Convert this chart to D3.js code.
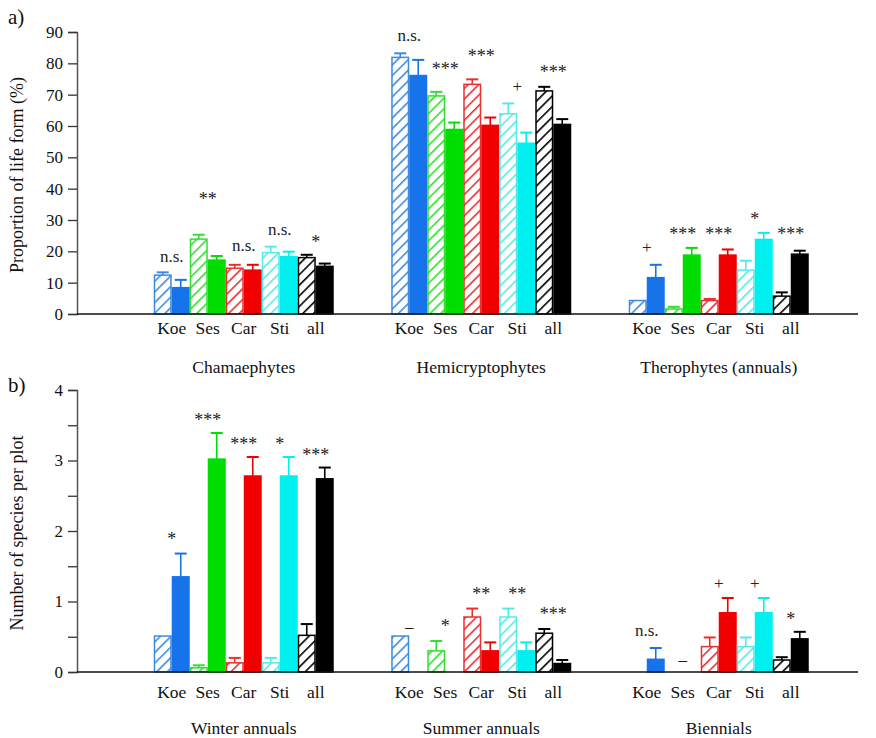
<!DOCTYPE html>
<html>
<head>
<meta charset="utf-8">
<script src="https://cdn.jsdelivr.net/npm/d3@7"></script>
<style>
  html, body { margin: 0; padding: 0; background: #fff; }
  svg text { font-family: "Liberation Serif", "Times New Roman", Times, serif; }
</style>
</head>
<body>
<svg id="chart" width="876" height="738"></svg>
<script>
// Sites / species pairs shown in every group
const categories = ["Koe", "Ses", "Car", "Sti", "all"];
const seriesColor = ["#1773ea", "#00dd00", "#f00000", "#00f0f0", "#000000"];
const hatchColor  = ["#3d8be0", "#33dd33", "#e83030", "#55eaea", "#000000"];

// a) proportion of life forms (%)
const lifeGroups = ["Chamaephytes", "Hemicryptophytes", "Therophytes (annuals)"];
const lifeHatchedMean = [[12.4, 23.9, 14.6, 19.6, 18.0], [81.9, 69.6, 73.3, 63.9, 71.2], [4.3, 1.6, 4.3, 14.0, 5.7]];
const lifeHatchedSE   = [[0.9, 1.4, 1.1, 1.9, 0.9], [1.3, 1.3, 1.6, 3.3, 1.3], [0, 0.7, 0.5, 3.0, 1.2]];
const lifeSolidMean   = [[8.4, 17.2, 14.0, 18.3, 15.2], [76.1, 58.9, 60.2, 54.5, 60.5], [11.6, 18.8, 18.8, 23.8, 19.1]];
const lifeSolidSE     = [[2.5, 1.3, 1.7, 1.6, 0.9], [5.0, 2.2, 2.5, 3.4, 1.7], [4.1, 2.3, 1.8, 2.1, 1.1]];
const lifeSig         = [["n.s.", "**", "n.s.", "n.s.", "*"], ["n.s.", "***", "***", "+", "***"], ["+", "***", "***", "*", "***"]];
const lifeSigLevel    = [[16.6, 34.8, 20.1, 25.2, 21.1], [87.1, 76.3, 80.4, 70.9, 75.3], [19.5, 23.6, 23.6, 28.4, 23.6]];
const lifeTicks = [0, 10, 20, 30, 40, 50, 60, 70, 80, 90];

// b) number of species per plot
const annGroups = ["Winter annuals", "Summer annuals", "Biennials"];
const annHatchedMean = [[0.51, 0.06, 0.13, 0.13, 0.52], [0.51, 0.30, 0.78, 0.78, 0.55], [0, 0, 0.36, 0.36, 0.17]];
const annHatchedSE   = [[0, 0.035, 0.07, 0.07, 0.16], [0, 0.14, 0.12, 0.12, 0.06], [0, 0, 0.13, 0.13, 0.04]];
const annSolidMean   = [[1.35, 3.02, 2.78, 2.78, 2.74], [0, 0, 0.30, 0.30, 0.12], [0.18, 0, 0.84, 0.84, 0.47]];
const annSolidSE     = [[0.33, 0.37, 0.27, 0.27, 0.16], [0, 0, 0.12, 0.12, 0.05], [0.16, 0, 0.21, 0.21, 0.10]];
const annSig         = [["*", "***", "***", "*", "***"], ["\u2013", "*", "**", "**", "***"], ["n.s.", "\u2013", "+", "+", "*"]];
const annSigLevel    = [[1.80, 3.49, 3.15, 3.15, 2.99], [0.57, 0.57, 1.02, 1.02, 0.74], [0.51, 0.10, 1.18, 1.18, 0.67]];
const annTicks = [0, 0.5, 1, 1.5, 2, 2.5, 3, 3.5, 4];

const FONT = "'Liberation Serif', 'Times New Roman', Times, serif";
const svg = d3.select("#chart").attr("font-family", FONT);
const defs = svg.append("defs");

// diagonal hatch pattern per colour
hatchColor.forEach((c, i) => {
  const p = defs.append("pattern")
    .attr("id", "hatch" + i)
    .attr("patternUnits", "userSpaceOnUse")
    .attr("width", 7.5).attr("height", 7.5)
    .attr("patternTransform", "rotate(45)");
  p.append("rect").attr("width", 7.5).attr("height", 7.5).attr("fill", "#fff");
  p.append("line").attr("x1", 0.8).attr("y1", 0).attr("x2", 0.8).attr("y2", 7.5)
    .attr("stroke", c).attr("stroke-width", 1.6);
});

const axisLeft = 77, axisRight = 858;

function drawPanel(cfg) {
  const g = svg.append("g");
  const y = d3.scaleLinear().domain(cfg.domain).range([cfg.y0, cfg.y1]);
  const xg = d3.scaleBand().domain(cfg.groups).range([125, 837.5])
    .paddingInner(0.242).paddingOuter(0.121);
  const xc = d3.scaleBand().domain(categories).range([0, xg.bandwidth()]);
  const xs = d3.scaleBand().domain(["h", "s"]).range([0, xc.bandwidth()]);
  const bw = xs.bandwidth();

  // y axis
  const ya = d3.axisLeft(y).tickValues(cfg.ticks).tickSize(9).tickPadding(5)
    .tickFormat(d => cfg.labelTick(d) ? d3.format("d")(d) : "");
  const yg = g.append("g").attr("transform", `translate(${axisLeft},0)`).call(ya)
    .attr("font-family", FONT);
  yg.select(".domain").attr("stroke", "#555").attr("stroke-width", 1.5);
  yg.selectAll(".tick line").attr("stroke", "#333").attr("stroke-width", 1.3);
  yg.selectAll(".tick text").attr("font-size", 17).attr("fill", "#111")
    .attr("font-family", FONT);

  // bars
  cfg.groups.forEach((grp, gi) => {
    categories.forEach((cat, ci) => {
      const x0 = xg(grp) + xc(cat);
      const specs = [
        { key: "h", m: cfg.hm[gi][ci], se: cfg.hse[gi][ci], hatched: true },
        { key: "s", m: cfg.sm[gi][ci], se: cfg.sse[gi][ci], hatched: false }
      ];
      specs.forEach(s => {
        if (s.m <= 0) return;
        const bx = x0 + xs(s.key);
        const col = s.hatched ? hatchColor[ci] : seriesColor[ci];
        // error bar
        if (s.se > 0) {
          const cx = bx + bw / 2;
          g.append("line").attr("x1", cx).attr("x2", cx)
            .attr("y1", y(s.m)).attr("y2", y(s.m + s.se))
            .attr("stroke", col).attr("stroke-width", 1.6);
          g.append("line").attr("x1", cx - 6).attr("x2", cx + 6)
            .attr("y1", y(s.m + s.se)).attr("y2", y(s.m + s.se))
            .attr("stroke", col).attr("stroke-width", 2);
        }
        g.append("rect")
          .attr("x", bx + 0.75).attr("width", bw - 1.5)
          .attr("y", y(s.m)).attr("height", y(0) - y(s.m))
          .attr("fill", s.hatched ? `url(#hatch${ci})` : col)
          .attr("stroke", col).attr("stroke-width", 1.5);
      });
      // significance label
      const lab = cfg.sig[gi][ci];
      g.append("text")
        .attr("x", x0 + xc.bandwidth() / 2)
        .attr("y", y(cfg.sigLevel[gi][ci]))
        .attr("text-anchor", "middle")
        .attr("font-family", FONT)
        .attr("font-size", lab.includes("*") ? 18 : 17)
        .attr("fill", "#222")
        .text(lab);
      // category label
      g.append("text")
        .attr("x", x0 + xc.bandwidth() / 2)
        .attr("y", cfg.catY)
        .attr("text-anchor", "middle")
        .attr("font-family", FONT)
        .attr("font-size", 17.5).attr("fill", "#111")
        .text(cat);
    });
    g.append("text")
      .attr("x", xg(grp) + xg.bandwidth() / 2)
      .attr("y", cfg.grpY)
      .attr("text-anchor", "middle")
      .attr("font-family", FONT)
      .attr("font-size", 17.5).attr("fill", "#111")
      .text(grp);
  });

  // x axis baseline
  g.append("line").attr("x1", axisLeft).attr("x2", axisRight)
    .attr("y1", y(0)).attr("y2", y(0))
    .attr("stroke", "#111").attr("stroke-width", 1.6);

  // y title
  g.append("text")
    .attr("transform", `translate(23,${(cfg.y0 + cfg.y1) / 2 + 2}) rotate(-90)`)
    .attr("text-anchor", "middle")
    .attr("font-family", FONT)
    .attr("font-size", 18).attr("fill", "#111")
    .text(cfg.title);

  // panel letter
  g.append("text").attr("x", 8).attr("y", cfg.letterY)
    .attr("font-family", FONT)
    .attr("font-size", 21).attr("fill", "#111").text(cfg.letter);
}

drawPanel({
  domain: [0, 90], y0: 314, y1: 32, ticks: lifeTicks, labelTick: () => true,
  groups: lifeGroups, hm: lifeHatchedMean, hse: lifeHatchedSE,
  sm: lifeSolidMean, sse: lifeSolidSE, sig: lifeSig, sigLevel: lifeSigLevel,
  catY: 334, grpY: 373, title: "Proportion of life form (%)",
  letter: "a)", letterY: 24
});

drawPanel({
  domain: [0, 4], y0: 672, y1: 390, ticks: annTicks, labelTick: d => Number.isInteger(d),
  groups: annGroups, hm: annHatchedMean, hse: annHatchedSE,
  sm: annSolidMean, sse: annSolidSE, sig: annSig, sigLevel: annSigLevel,
  catY: 698, grpY: 734, title: "Number of species per plot",
  letter: "b)", letterY: 392
});
</script>
</body>
</html>
